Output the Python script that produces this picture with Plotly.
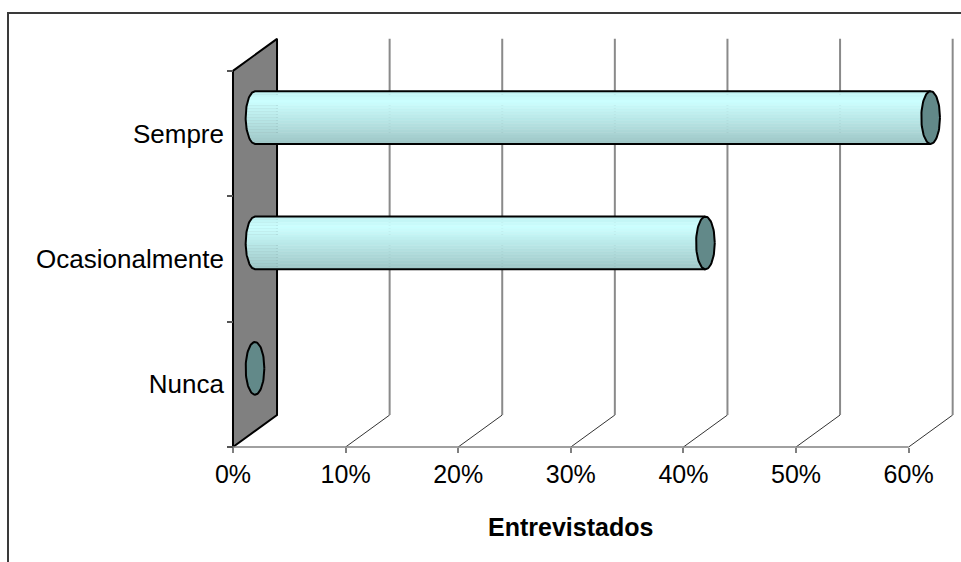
import numpy as np
import plotly.graph_objects as go

# ---- data -------------------------------------------------------------
categories = ["Nunca", "Ocasionalmente", "Sempre"]
values = [0, 40, 60]                      # share of interviewees, %
x_ticks = [0, 10, 20, 30, 40, 50, 60]
x_tick_labels = ["0%", "10%", "20%", "30%", "40%", "50%", "60%"]
axis_title = "Entrevistados"

# ---- 3-D look parameters ---------------------------------------------
W, H = 961, 562
X_RANGE = [-20.69, 64.65]                 # % units across the whole canvas
Y_RANGE = [-1.417, 3.065]                 # category units across the canvas
DX, DY = 3.91, 0.255                      # depth offset of the back plane
R_Y = 0.21                                # cylinder half-height (category units)
R_X = 0.83                                # end-ellipse half-width (% units)
FONT = "Liberation Sans, Arial, sans-serif"
BASE = np.array([204, 255, 255])          # light turquoise body colour
CAP = "rgb(98,137,137)"
N_BANDS = 18

n_cat = len(categories)
y_lo, y_hi = -0.5, n_cat - 0.5

fig = go.Figure()


def add_line(xs, ys, color, width, fill=None, fillcolor=None):
    fig.add_trace(go.Scatter(
        x=xs, y=ys, mode="lines", line=dict(color=color, width=width),
        fill=fill, fillcolor=fillcolor, hoverinfo="skip", showlegend=False))


# side wall (left)
add_line([0, 0, DX, DX, 0], [y_lo, y_hi, y_hi + DY, y_lo + DY, y_lo],
         "black", 2, fill="toself", fillcolor="#808080")

# floor diagonals and back-wall gridlines
gx_d, gy_d, gx_v, gy_v = [], [], [], []
for t in x_ticks[1:]:
    gx_d += [t, t + DX, None]
    gy_d += [y_lo, y_lo + DY, None]
    gx_v += [t + DX, t + DX, None]
    gy_v += [y_lo + DY, y_hi + DY, None]
add_line(gx_d, gy_d, "#333333", 1)
add_line(gx_v, gy_v, "#8a8a8a", 2)

# front floor edge
add_line([x_ticks[0], x_ticks[-1]], [y_lo, y_lo], "#808080", 1.5)


def shade(t):
    """Brightness of a cylinder band; t = 0 at the top, 1 at the bottom."""
    if t < 0.2:
        f = 1 - 0.06 * (0.2 - t) / 0.2
    else:
        f = 1 - 0.22 * (t - 0.2) / 0.8
    c = np.clip(BASE * f, 0, 255).astype(int)
    return f"rgb({c[0]},{c[1]},{c[2]})"


def left_arc(cx, cy, y_from, y_to, n=12):
    ys = np.linspace(y_from, y_to, n)
    xs = cx - R_X * np.sqrt(np.clip(1 - ((ys - cy) / R_Y) ** 2, 0, 1))
    return list(xs), list(ys)


theta = np.linspace(0, 2 * np.pi, 73)

for i, (cat, v) in enumerate(zip(categories, values)):
    cy = i + DY / 2
    cx_l = DX / 2
    cx_r = v + DX / 2
    if v > 0:
        edges = np.linspace(cy + R_Y, cy - R_Y, N_BANDS + 1)
        for k in range(N_BANDS):
            top, bot = edges[k], edges[k + 1]
            ax, ay = left_arc(cx_l, cy, top, bot)
            xs = ax + [cx_r, cx_r, ax[0]]
            ys = ay + [bot, top, ay[0]]
            add_line(xs, ys, shade((k + 0.5) / N_BANDS), 0.5,
                     fill="toself", fillcolor=shade((k + 0.5) / N_BANDS))
        # outline: top edge, rounded far end, bottom edge
        ax, ay = left_arc(cx_l, cy, cy + R_Y, cy - R_Y, 40)
        add_line([cx_r] + ax + [cx_r], [cy + R_Y] + ay + [cy - R_Y], "black", 2)
    # visible end cap
    add_line(list(cx_r + R_X * np.cos(theta)), list(cy + R_Y * np.sin(theta)),
             "black", 2, fill="toself", fillcolor=CAP)

# axis title
fig.add_annotation(x=(x_ticks[0] + x_ticks[-1]) / 2, y=-1.138, xref="x", yref="y",
                   text=axis_title, showarrow=False, yanchor="middle",
                   font=dict(family=FONT, size=25, color="black", weight="bold"))

# chart-area border
bx, by = 8 / W, 1 - 13 / H
fig.add_shape(type="path", xref="paper", yref="paper",
              path=f"M {bx},0 L {bx},{by} L 1.01,{by}",
              line=dict(color="#3a3a3a", width=2))

fig.update_layout(
    width=W, height=H, autosize=False,
    margin=dict(l=0, r=0, t=0, b=0, pad=0),
    paper_bgcolor="white", plot_bgcolor="white",
    xaxis=dict(range=X_RANGE, anchor="free", position=(H - 447) / H,
               showgrid=False, zeroline=False, showline=False,
               tickmode="array", tickvals=x_ticks, ticktext=x_tick_labels,
               ticks="outside", ticklen=5, tickcolor="#808080", tickwidth=1.5,
               tickfont=dict(family=FONT, size=25, color="black"),
               fixedrange=True),
    yaxis=dict(range=Y_RANGE, anchor="free", position=233 / W,
               showgrid=False, zeroline=False, showline=False,
               tickmode="array", tickvals=[k - 0.5 for k in range(n_cat + 1)],
               ticks="outside", ticklen=6, tickcolor="#555555", tickwidth=1.5,
               showticklabels=False, fixedrange=True),
    yaxis2=dict(range=Y_RANGE, overlaying="y", anchor="free", position=233 / W,
                side="left", showgrid=False, zeroline=False, showline=False,
                tickmode="array", tickvals=list(range(n_cat)), ticktext=categories,
                ticks="", ticklabelstandoff=9,
                tickfont=dict(family=FONT, size=26, color="black"),
                fixedrange=True),
)

# a dummy trace keeps yaxis2 active so its labels are drawn
fig.add_trace(go.Scatter(x=[None], y=[None], yaxis="y2", showlegend=False,
                         hoverinfo="skip"))

fig.write_html("out.html", config={"displayModeBar": False})
